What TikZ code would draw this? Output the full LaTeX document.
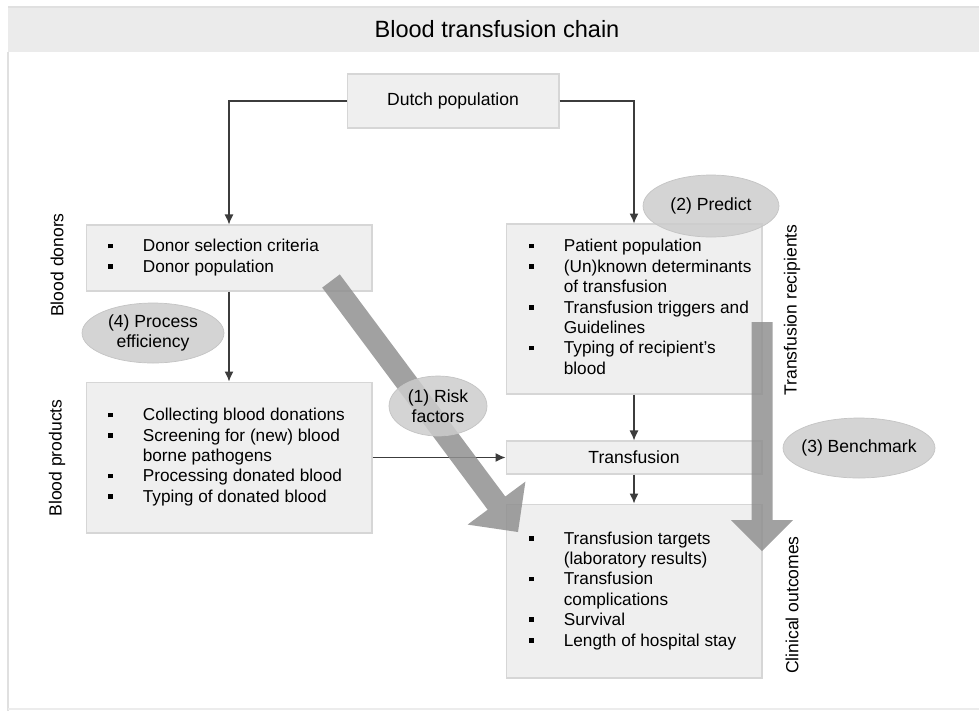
\documentclass[tikz,border=0pt]{standalone}
\usepackage{fontspec}
\setmainfont{Liberation Sans}
\usetikzlibrary{arrows.meta,shapes.geometric,calc}

\definecolor{boxfill}{HTML}{EFEFEF}
\definecolor{boxline}{HTML}{D6D6D6}
\definecolor{bandfill}{HTML}{EBEBEB}
\definecolor{frameline}{HTML}{E0E0E0}
\definecolor{connline}{HTML}{3C3C3C}
\definecolor{ovalfill}{HTML}{CCCCCC}
\definecolor{ovalline}{HTML}{C4C4C4}
\definecolor{arrowfill}{HTML}{909090}

\newcommand{\bul}{\rule[2pt]{2.7pt}{2.7pt}}

\begin{document}
\begin{tikzpicture}[x=0.02cm,y=-0.02cm,
  box/.style={draw=boxline, fill=boxfill, line width=0.6pt, inner sep=0pt},
  conn/.style={draw=connline, line width=0.7pt, -{Latex[length=2mm,width=1.8mm]}},
  list/.style={anchor=west, inner sep=0pt, align=left, font=\fontsize{9.8pt}{11.6pt}\selectfont},
  oval/.style={ellipse, draw=ovalline, fill=ovalfill, fill opacity=0.85, text opacity=1,
    inner sep=0pt, align=center, font=\fontsize{10pt}{11.6pt}\selectfont},
  side/.style={rotate=90, inner sep=0pt, font=\fontsize{10pt}{12pt}\selectfont},
  bigarrow/.style={fill=arrowfill, fill opacity=0.85}]

\useasboundingbox (0,0) rectangle (979,711);

% frame and title band
\fill[bandfill] (8,7) rectangle (979,52);
\draw[frameline, line width=0.6pt] (8,7) -- (979,7);
\draw[frameline, line width=1pt] (8,52) -- (8,711);
\draw[frameline!60, line width=0.6pt] (8,709) -- (979,709);
\node[font=\fontsize{13.4pt}{16pt}\selectfont] (title) at (497,29) {Blood transfusion chain};

% boxes
\node[box, minimum width=4.24cm, minimum height=1.08cm, font=\fontsize{10pt}{12pt}\selectfont]
  (dutch) at (453,101) {Dutch population};
\node[box, minimum width=5.72cm, minimum height=1.32cm] (donor) at (229,258) {};
\node[box, minimum width=5.72cm, minimum height=3.02cm] (products) at (229,457.5) {};
\node[box, minimum width=5.12cm, minimum height=3.4cm] (recip) at (634,309) {};
\node[box, minimum width=5.12cm, minimum height=0.66cm, font=\fontsize{10pt}{12pt}\selectfont]
  (transf) at (634,457.5) {Transfusion};
\node[box, minimum width=5.12cm, minimum height=3.48cm] (clin) at (634,591) {};

% lists
\node[list] (donortxt) at ($(donor.west)+(22,0)$) {%
  \begin{tabular}{@{}p{0.7cm}@{}l@{}}
  \bul & Donor selection criteria\\
  \bul & Donor population
  \end{tabular}};
\node[list] (productstxt) at ($(products.west)+(22,0)$) {%
  \begin{tabular}{@{}p{0.7cm}@{}l@{}}
  \bul & Collecting blood donations\\
  \bul & Screening for (new) blood\\
       & borne pathogens\\
  \bul & Processing donated blood\\
  \bul & Typing of donated blood
  \end{tabular}};
\node[list] (reciptxt) at ($(recip.west)+(23,0)$) {%
  \begin{tabular}{@{}p{0.7cm}@{}l@{}}
  \bul & Patient population\\
  \bul & (Un)known determinants\\
       & of transfusion\\
  \bul & Transfusion triggers and\\
       & Guidelines\\
  \bul & Typing of recipient's\\
       & blood
  \end{tabular}};
\node[list] (clintxt) at ($(clin.west)+(23,0)$) {%
  \begin{tabular}{@{}p{0.7cm}@{}l@{}}
  \bul & Transfusion targets\\
       & (laboratory results)\\
  \bul & Transfusion\\
       & complications\\
  \bul & Survival\\
  \bul & Length of hospital stay
  \end{tabular}};

% side labels
\node[side] (donorlab) at (57,265) {Blood donors};
\node[side] (productslab) at (57,458) {Blood products};
\node[side] (reciplab) at (792,310) {Transfusion recipients};
\node[side] (clinlab) at (792,605) {Clinical outcomes};

% connectors
\draw[conn] (dutch.west) -| (donor.north);
\draw[conn] (dutch.east) -| (recip.north);
\draw[conn] (donor.south) -- (products.north);
\draw[conn] (recip.south) -- (transf.north);
\draw[conn] (transf.south) -- (clin.north);
\draw[conn] (products.east) -- (transf.west);

% wide arrows
\fill[bigarrow] (339.8,274.4) -- (505.3,496.5) -- (525.4,481.6) -- (518,532)
  -- (467.6,524.6) -- (487.7,509.7) -- (322.2,287.6) -- cycle;
\fill[bigarrow] (751.5,322) -- (772.5,322) -- (772.5,520) -- (793,520)
  -- (762,551) -- (731,520) -- (751.5,520) -- cycle;

% ovals
\node[oval, minimum width=2.84cm, minimum height=1.2cm] (effic) at (153,333) {(4) Process\\efficiency};
\node[oval, minimum width=1.96cm, minimum height=1.2cm] (risk) at (438,406) {(1) Risk\\factors};
\node[oval, minimum width=2.72cm, minimum height=1.24cm] (predict) at (711,206) {(2) Predict};
\node[oval, minimum width=3.04cm, minimum height=1.2cm, inner xsep=-4pt] (bench) at (859,448) {(3) Benchmark};
\end{tikzpicture}
\end{document}
